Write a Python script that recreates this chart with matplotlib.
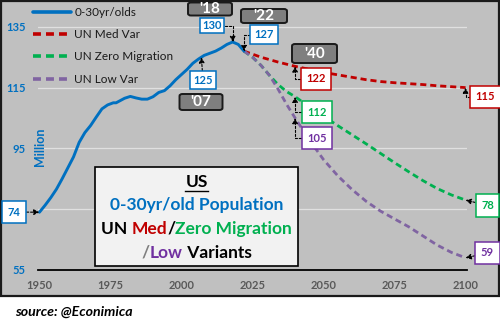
import matplotlib
matplotlib.use("Agg")
import matplotlib.pyplot as plt
from matplotlib.patches import Rectangle, FancyBboxPatch
from matplotlib.lines import Line2D
from matplotlib.offsetbox import TextArea, HPacker, AnnotationBbox

plt.rcParams['font.family'] = ['Lato', 'DejaVu Sans']

# ---- data -------------------------------------------------------------
hist_years = [1950, 1952, 1954, 1956, 1958, 1960, 1962, 1964, 1966, 1968,
              1970, 1972, 1974, 1976, 1977, 1978, 1980, 1982, 1984, 1986,
              1988, 1990, 1992, 1994, 1996, 1998, 2000, 2002, 2004, 2006,
              2007, 2008, 2010, 2012, 2014, 2016, 2018, 2020, 2022]
pop_0_30 = [74, 76.3, 78.8, 81.6, 85.0, 88.6, 92.2, 97.0, 100.2, 102.5,
            105.3, 108.0, 109.3, 110.0, 110.0, 110.5, 111.5, 112.1, 111.6, 111.2,
            111.2, 112.0, 113.4, 114.0, 115.6, 117.6, 119.3, 121.0, 123.0, 124.4,
            125, 125.6, 126.3, 127.0, 128.0, 129.2, 130, 129.2, 127]

proj_years = [2022, 2025, 2028, 2031, 2034, 2037, 2040, 2045, 2050, 2055,
              2060, 2065, 2070, 2075, 2080, 2085, 2090, 2095, 2100]
un_med = [127, 126.0, 125.0, 124.2, 123.4, 122.7, 122, 121.0, 120.0, 119.2,
          118.4, 117.6, 117.0, 116.6, 116.3, 116.0, 115.6, 115.3, 115]
un_zero = [127, 125.0, 122.3, 119.0, 116.0, 113.7, 112, 108.7, 105.6, 102.5,
           99.5, 96.5, 93.4, 90.3, 87.3, 84.4, 81.8, 79.7, 78]
un_low = [127, 125.0, 122.3, 119.0, 114.5, 109.5, 105, 97.8, 91.3, 86.0,
          81.5, 77.6, 74.4, 71.8, 69.2, 66.2, 63.2, 60.8, 59]

x_ticks = [1950, 1975, 2000, 2025, 2050, 2075, 2100]
y_ticks = [55, 75, 95, 115, 135]

# ---- colours ----------------------------------------------------------
BLUE = '#0070c0'
RED = '#c00000'
GREEN = '#00b050'
PURPLE_LINE = '#8064a2'
PURPLE_TXT = '#7030a0'
GREY_BG = '#c0c0c0'

W, H = 500, 330
fig = plt.figure(figsize=(W / 100, H / 100), dpi=100)
fig.patch.set_facecolor('white')


def fx(px):
    return px / W


def fy(py):
    return 1 - py / H


# grey chart panel with dark frame
fig.patches.append(Rectangle((fx(1), fy(296)), fx(498), (296 - 1) / H,
                             transform=fig.transFigure, facecolor=GREY_BG,
                             edgecolor='#1a1a1a', lw=1.6, zorder=-10))

ax = fig.add_axes([fx(38), fy(270), fx(429), (270 - 10) / H])
ax.set_facecolor('none')
ax.set_xlim(1949.5, 2100.5)
ax.set_ylim(55, 55 + 260 / 3.04)

for s in ['top', 'right', 'left']:
    ax.spines[s].set_visible(False)
ax.spines['bottom'].set_color('black')
ax.spines['bottom'].set_linewidth(1.3)

ax.set_xticks(x_ticks)
ax.set_yticks(y_ticks)
ax.tick_params(axis='both', length=0)
ax.tick_params(axis='y', pad=9, labelcolor=BLUE, labelsize=8)
ax.tick_params(axis='x', pad=7, labelcolor='#595959', labelsize=8)
for lab in ax.get_xticklabels() + ax.get_yticklabels():
    lab.set_fontweight('bold')
ax.yaxis.grid(True, color='#e0e0e0', lw=0.9)
ax.set_axisbelow(True)

dash = (0, (2.2, 1.4))
ax.plot(hist_years, pop_0_30, color=BLUE, lw=2.1, label='0-30yr/olds',
        solid_capstyle='round', zorder=5)
ax.plot(proj_years, un_med, color=RED, lw=2.0, ls=dash, label='UN Med Var', zorder=4)
ax.plot(proj_years, un_zero, color=GREEN, lw=2.0, ls=dash,
        label='UN Zero Migration', zorder=3)
ax.plot(proj_years, un_low, color=PURPLE_LINE, lw=2.0, ls=dash,
        label='UN Low Var', zorder=4)

leg = ax.legend(loc='upper left', bbox_to_anchor=(fx(33), fy(7)),
                bbox_transform=fig.transFigure, frameon=False, fontsize=8.5,
                handlelength=3.2, handletextpad=0.3, labelspacing=0.95,
                borderpad=0, borderaxespad=0)
for t in leg.get_texts():
    t.set_color('#1a1a1a')
for h in leg.get_lines():
    h.set_linewidth(2.6)

fig.text(fx(40), fy(147), 'Million', rotation=90, color=BLUE,
         fontsize=9, fontweight='bold', ha='center', va='center')

# ---- value call-outs --------------------------------------------------
arrow_dash = (0, (2.0, 1.6))


def callout(text, year, value, color, px, py, conn, pad=0.35):
    ax.annotate(text, xy=(year, value), xycoords='data',
                xytext=(px, H - py), textcoords='figure pixels',
                ha='center', va='center', fontsize=8, fontweight='bold',
                color=color, zorder=8, annotation_clip=False,
                bbox=dict(boxstyle=f'square,pad={pad}', fc='white', ec=color, lw=1.1),
                arrowprops=dict(arrowstyle='-|>', color='black', lw=0.8,
                                linestyle=arrow_dash, connectionstyle=conn,
                                shrinkA=0, shrinkB=0, mutation_scale=8))


elbow = 'angle,angleA=0,angleB=90,rad=0'
callout('74', hist_years[0], pop_0_30[0], BLUE, 14, 212, 'arc3', pad=0.5)
callout('125', 2007, pop_0_30[hist_years.index(2007)], BLUE, 203, 80, 'arc3', pad=0.3)
callout('130', 2018, pop_0_30[hist_years.index(2018)], BLUE, 212, 25.5, elbow, pad=0.2)
callout('127', 2022, pop_0_30[-1], BLUE, 264, 34.5, elbow, pad=0.35)
i40 = proj_years.index(2040)
callout('122', 2040, un_med[i40], RED, 316, 79, elbow, pad=0.5)
callout('112', 2040, un_zero[i40], GREEN, 317, 112, elbow, pad=0.5)
callout('105', 2040, un_low[i40], PURPLE_TXT, 317, 138, elbow, pad=0.5)
callout('115', 2100, un_med[-1], RED, 485.5, 97, elbow, pad=0.5)
callout('78', 2100, un_zero[-1], GREEN, 487.5, 205.5, 'arc3', pad=0.5)
callout('59', 2100, un_low[-1], PURPLE_TXT, 487.5, 253, 'arc3', pad=0.5)


# ---- year tags --------------------------------------------------------
def year_tag(text, cx, cy, w, h):
    fig.patches.append(FancyBboxPatch((fx(cx - w / 2), fy(cy + h / 2)), fx(w), h / H,
                                      boxstyle='round,pad=0,rounding_size=0.006',
                                      transform=fig.transFigure, fc='#7f7f7f',
                                      ec='#1a1a1a', lw=1.4, zorder=6))
    fig.text(fx(cx), fy(cy), text, color='white', fontsize=11, fontweight='bold',
             ha='center', va='center', zorder=7)


year_tag("'18", 210, 9, 44, 13)
year_tag("'22", 264, 16, 46, 14)
year_tag("'07", 201, 102, 43, 16)
year_tag("'40", 314.5, 53.5, 45, 19)

# ---- title panel ------------------------------------------------------
fig.patches.append(Rectangle((fx(95), fy(266)), fx(203), (266 - 167) / H,
                             transform=fig.transFigure, facecolor='#f2f2f2',
                             edgecolor='black', lw=1.2, zorder=6))

title_lines = [
    (182.5, [('US', 'black')]),
    (205, [('0-30yr/old Population', BLUE)]),
    (229, [('UN ', 'black'), ('Med', RED), ('/', 'black'), ('Zero Migration', GREEN)]),
    (253, [('/', '#7f7f7f'), ('Low', PURPLE_TXT), (' Variants', 'black')]),
]
for ypos, parts in title_lines:
    areas = [TextArea(t, textprops=dict(color=c, fontsize=12.5, fontweight='bold'))
             for t, c in parts]
    pack = HPacker(children=areas, align='baseline', pad=0, sep=0)
    ab = AnnotationBbox(pack, (fx(196.5), fy(ypos)), xycoords='figure fraction',
                        frameon=False, box_alignment=(0.5, 0.5), zorder=7)
    fig.add_artist(ab)

# underline under the country name
fig.add_artist(Line2D([fx(185), fx(208)], [fy(191), fy(191)], color='black',
                      lw=1.0, transform=fig.transFigure, zorder=8))

fig.text(fx(15), fy(312), 'source: @Econimica', fontsize=10.2, fontweight='bold',
         style='italic', color='black', ha='left', va='center')

fig.savefig('out.png', dpi=100)
